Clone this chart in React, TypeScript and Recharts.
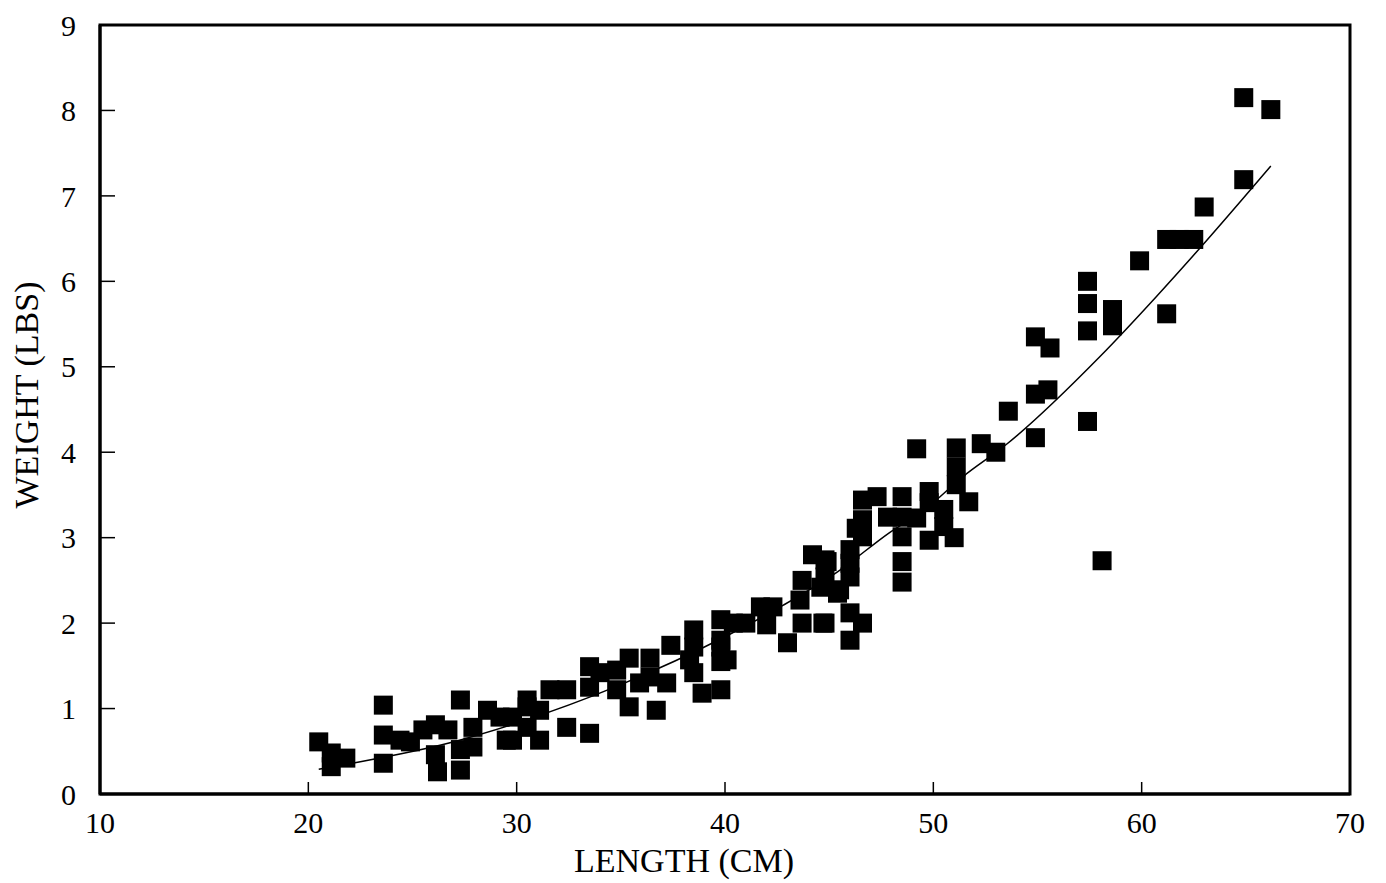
import { ComposedChart, Scatter, Line, XAxis, YAxis, ReferenceArea } from 'recharts';

// fish length (cm) vs weight (lbs)
const lengthCm = [
  20.5, 21.1, 21.8, 21.1, 23.6, 23.6, 23.6, 24.4, 24.9, 25.5, 26.1, 26.1, 26.2, 26.7, 27.3, 27.3, 27.3, 27.9, 27.9, 28.6,
  29.2, 29.8, 30.5, 30.5, 29.5, 29.8, 30.5, 31.1, 31.1, 31.6, 32.4, 32.4, 33.5, 33.5, 33.5, 34.0, 34.8, 34.8, 35.4, 35.4,
  35.9, 36.4, 36.4, 36.7, 37.2, 37.4, 38.3, 38.5, 38.5, 38.5, 38.9, 39.8, 39.8, 39.8, 39.8, 39.8, 40.1, 40.4, 41.0, 41.7,
  42.0, 42.3, 43.0, 43.6, 43.7, 43.7, 44.2, 44.6, 44.7, 44.8, 44.8, 44.8, 44.9, 45.4, 45.5, 46.0, 46.0, 46.0, 46.0, 46.0,
  46.3, 46.6, 46.6, 46.6, 46.6, 47.3, 47.8, 48.5, 48.5, 48.5, 48.5, 48.5, 49.2, 49.2, 49.8, 49.8, 49.8, 50.5, 50.5, 51.0,
  51.1, 51.1, 51.1, 51.7, 52.3, 53.0, 53.6, 54.9, 54.9, 54.9, 55.5, 55.6, 57.4, 57.4, 57.4, 57.4, 58.1, 58.6, 58.6, 59.9,
  61.2, 61.2, 61.8, 62.5, 63.0, 64.9, 64.9, 66.2,
];
const weightLbs = [
  0.61, 0.48, 0.42, 0.32, 1.04, 0.69, 0.36, 0.63, 0.61, 0.75, 0.81, 0.46, 0.26, 0.75, 1.10, 0.28, 0.52, 0.78, 0.55, 0.98,
  0.90, 0.63, 1.02, 0.78, 0.63, 0.90, 1.10, 0.98, 0.63, 1.22, 1.22, 0.78, 1.49, 1.25, 0.71, 1.42, 1.45, 1.22, 1.59, 1.02,
  1.30, 1.59, 1.37, 0.98, 1.30, 1.74, 1.57, 1.92, 1.72, 1.42, 1.18, 2.04, 1.80, 1.72, 1.55, 1.22, 1.57, 2.00, 2.00, 2.19,
  1.98, 2.19, 1.77, 2.27, 2.50, 2.00, 2.80, 2.42, 2.00, 2.74, 2.54, 2.00, 2.72, 2.35, 2.39, 2.86, 2.70, 2.54, 2.12, 1.80,
  3.11, 3.44, 3.21, 3.01, 2.00, 3.48, 3.24, 3.48, 3.24, 3.01, 2.72, 2.48, 4.04, 3.23, 3.54, 3.41, 2.97, 3.33, 3.13, 3.00,
  4.05, 3.83, 3.62, 3.42, 4.10, 4.00, 4.48, 5.35, 4.68, 4.17, 4.73, 5.22, 6.00, 5.74, 5.42, 4.36, 2.73, 5.67, 5.48, 6.24,
  6.49, 5.62, 6.49, 6.49, 6.87, 8.15, 7.19, 8.01,
];

// fitted curve
const fitLength = [20.5, 22.1, 26.8, 30, 35, 40, 42.8, 45.4, 47.9, 49.7, 51.4, 53.5, 58, 60.7, 62.8, 66.2];
const fitWeight = [0.29, 0.36, 0.6, 0.83, 1.28, 1.84, 2.21, 2.6, 3.06, 3.35, 3.71, 4.09, 5.12, 5.82, 6.39, 7.35];

const xTicks = [10, 20, 30, 40, 50, 60, 70];
const yTicks = [0, 1, 2, 3, 4, 5, 6, 7, 8, 9];

const points = lengthCm.map((l, i) => ({ l, w: weightLbs[i] }));
const fit = fitLength.map((l, i) => ({ l, w: fitWeight[i] }));

const font = '"Liberation Serif", "DejaVu Serif", serif';
const tickStyle = { fontSize: 30, fill: '#000', fontFamily: font };

function Square(props: any) {
  const { cx, cy } = props;
  if (cx == null || cy == null) return null;
  return <rect x={cx - 9.5} y={cy - 9.5} width={19} height={19} fill="#000" />;
}

export default function App() {
  return (
    <div style={{ position: 'absolute', left: 0, top: 0, background: '#fff' }}>
      <ComposedChart width={1386} height={883} margin={{ top: 25, right: 36, bottom: 39, left: 40 }}>
        <XAxis
          type="number"
          dataKey="l"
          domain={[10, 70]}
          ticks={xTicks}
          allowDataOverflow
          tick={tickStyle}
          tickSize={-12}
          tickMargin={30}
          height={50}
          axisLine={{ stroke: '#000', strokeWidth: 3 }}
          tickLine={{ stroke: '#000', strokeWidth: 1.5 }}
          label={{
            content: () => (
              <text x={684} y={872} textAnchor="middle" fontSize={34} fontFamily={font} fill="#000">
                LENGTH (CM)
              </text>
            ),
          }}
        />
        <YAxis
          type="number"
          dataKey="w"
          domain={[0, 9]}
          ticks={yTicks}
          allowDataOverflow
          tick={tickStyle}
          tickSize={-15}
          tickMargin={39}
          width={60}
          axisLine={{ stroke: '#000', strokeWidth: 3 }}
          tickLine={{ stroke: '#000', strokeWidth: 1.5 }}
          label={{
            content: () => (
              <text
                x={38}
                y={395}
                transform="rotate(-90, 38, 395)"
                textAnchor="middle"
                fontSize={34}
                fontFamily={font}
                fill="#000"
              >
                WEIGHT (LBS)
              </text>
            ),
          }}
        />
        <ReferenceArea x1={10} x2={70} y1={0} y2={9} fill="none" stroke="#000" strokeWidth={3} />
        <Scatter data={points} dataKey="w" fill="#000" shape={<Square />} isAnimationActive={false} />
        <Line data={fit} dataKey="w" type="monotone" stroke="#000" strokeWidth={1.5} dot={false} isAnimationActive={false} />
      </ComposedChart>
    </div>
  );
}
